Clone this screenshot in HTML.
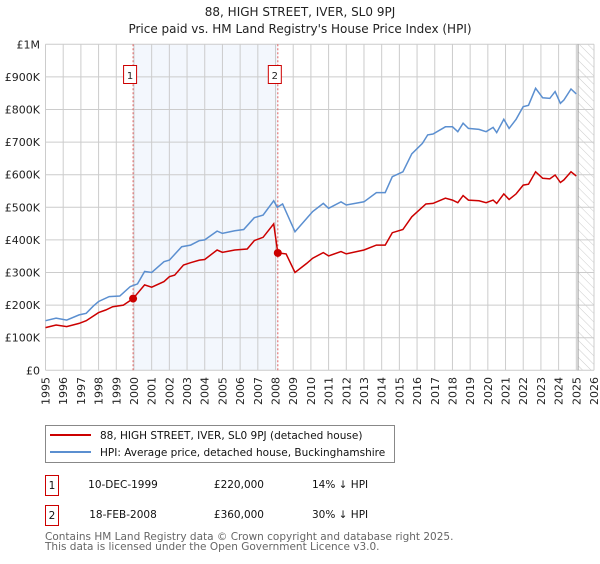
<!DOCTYPE html>
<html><head><meta charset="utf-8"><style>
body{margin:0;background:#fff;width:600px;height:560px;overflow:hidden;font-family:"DejaVu Sans","Liberation Sans",sans-serif}
</style></head><body>
<svg id="chart" width="600" height="560" xmlns="http://www.w3.org/2000/svg" font-family="DejaVu Sans, Liberation Sans, sans-serif">
<defs>
<pattern id="hatch" width="6" height="6" patternUnits="userSpaceOnUse" patternTransform="rotate(-45)">
<line x1="0" y1="0" x2="0" y2="6" stroke="#ccc" stroke-width="1"/>
</pattern>
</defs>
<text x="300" y="16" text-anchor="middle" font-size="12" fill="#222">88, HIGH STREET, IVER, SL0 9PJ</text>
<text x="300" y="33" text-anchor="middle" font-size="12" fill="#222">Price paid vs. HM Land Registry's House Price Index (HPI)</text>
<g id="plot"></g>
<g>
<rect x="45.5" y="425.5" width="349" height="37" fill="#fff" stroke="#888"/>
<line x1="50" y1="435" x2="91" y2="435" stroke="#cc0000" stroke-width="2"/>
<text x="100" y="439" font-size="10.5" fill="#111">88, HIGH STREET, IVER, SL0 9PJ (detached house)</text>
<line x1="50" y1="452" x2="91" y2="452" stroke="#5b8fd0" stroke-width="2"/>
<text x="100" y="456" font-size="10.5" fill="#111">HPI: Average price, detached house, Buckinghamshire</text>
</g>
<g font-size="10.5" fill="#111">
<rect x="45.5" y="475.5" width="13" height="20" fill="#fff" stroke="#cc0000"/>
<text x="52" y="489" text-anchor="middle">1</text>
<text x="123" y="488" text-anchor="middle">10-DEC-1999</text>
<text x="264" y="488" text-anchor="end">£220,000</text>
<text x="312" y="488">14% ↓ HPI</text>
<rect x="45.5" y="505.5" width="13" height="20" fill="#fff" stroke="#cc0000"/>
<text x="52" y="519" text-anchor="middle">2</text>
<text x="123" y="518" text-anchor="middle">18-FEB-2008</text>
<text x="264" y="518" text-anchor="end">£360,000</text>
<text x="312" y="518">30% ↓ HPI</text>
</g>
<g font-size="10.5" fill="#666">
<text x="45" y="540">Contains HM Land Registry data © Crown copyright and database right 2025.</text>
<text x="45" y="550">This data is licensed under the Open Government Licence v3.0.</text>
</g>
</svg>
<script>
const yTicks=[0,100,200,300,400,500,600,700,800,900,1000];
const yTickLabels=["£0","£100K","£200K","£300K","£400K","£500K","£600K","£700K","£800K","£900K","£1M"];
const xTicks=[1995,1996,1997,1998,1999,2000,2001,2002,2003,2004,2005,2006,2007,2008,2009,2010,2011,2012,2013,2014,2015,2016,2017,2018,2019,2020,2021,2022,2023,2024,2025,2026];
const hpiYears=[1995.0,1995.6,1996.2,1996.9,1997.3,1997.7,1998.0,1998.6,1999.2,1999.8,2000.2,2000.6,2001.0,2001.7,2002.0,2002.7,2003.2,2003.7,2004.0,2004.7,2005.0,2005.7,2006.2,2006.8,2007.3,2007.9,2008.1,2008.4,2009.1,2009.76,2010.1,2010.7,2011.0,2011.7,2012.0,2013.0,2013.7,2014.2,2014.6,2015.2,2015.7,2016.3,2016.6,2016.9,2017.6,2018.0,2018.3,2018.6,2018.9,2019.5,2019.9,2020.3,2020.5,2020.9,2021.2,2021.6,2022.0,2022.3,2022.7,2023.1,2023.5,2023.8,2024.1,2024.3,2024.7,2025.0];
const hpiValues=[152,160,154,170,175,197,211,226,228,257,265,303,300,333,338,379,384,398,400,427,420,428,432,468,476,520,500,510,425,466,487,512,497,517,507,517,545,545,594,609,664,696,722,725,747,747,732,758,742,739,732,745,729,770,742,770,809,813,865,836,834,855,819,829,863,848];
const priceYears=[1995.0,1995.6,1996.2,1996.9,1997.3,1998.0,1998.4,1998.8,1999.4,1999.95,2000.6,2001.0,2001.7,2002.0,2002.3,2002.8,2003.2,2003.7,2004.0,2004.7,2005.0,2005.7,2006.4,2006.8,2007.3,2007.9,2008.13,2008.6,2009.1,2009.76,2010.1,2010.7,2011.0,2011.7,2012.0,2013.0,2013.7,2014.2,2014.6,2015.2,2015.7,2016.5,2016.9,2017.6,2018.0,2018.3,2018.6,2018.9,2019.5,2019.9,2020.3,2020.5,2020.9,2021.2,2021.6,2022.0,2022.3,2022.7,2023.1,2023.5,2023.8,2024.1,2024.3,2024.7,2025.0];
const priceValues=[131,139,134,144,152,177,185,195,200,220,262,255,272,287,292,323,330,338,340,369,362,369,372,398,408,449,360,357,300,328,344,361,351,364,357,369,384,384,422,432,471,510,512,528,522,514,536,522,520,514,522,512,541,524,541,568,571,609,589,587,599,576,584,609,596];
const saleYears=[1999.95,2008.13];
const saleValues=[220,360];
const saleLabels=["1","2"];

const X0=45.5,X1=594,Y0=370.3,Y1=44.3;
const xs=y=>X0+(y-1995)/(2026-1995)*(X1-X0);
const ys=v=>Y0-v/1000*(Y0-Y1);
const NS="http://www.w3.org/2000/svg";
const g=document.getElementById('plot');
function mk(t,a){const e=document.createElementNS(NS,t);for(const k in a)e.setAttribute(k,a[k]);g.appendChild(e);return e;}
let r=mk('rect',{x:xs(saleYears[0]),y:Y1,width:xs(saleYears[1])-xs(saleYears[0]),height:Y0-Y1,fill:'#eef3fc',opacity:0.7});


r=mk('rect',{x:xs(2025.1),y:Y1,width:X1-xs(2025.1),height:Y0-Y1,fill:'url(#hatch)'});


xTicks.forEach(t=>{const l=mk('line',{x1:xs(t),x2:xs(t),y1:Y1,y2:Y0,stroke:'#ccc','stroke-width':1});


const px=xs(t)+4, py=377;
const tx=mk('text',{x:px,y:py,'text-anchor':'end','font-size':11,fill:'#222',transform:`rotate(-90 ${px} ${py})`});tx.textContent=t;

});
yTicks.forEach((t,i)=>{const l=mk('line',{x1:X0,x2:X1,y1:ys(t),y2:ys(t),stroke:'#ccc','stroke-width':1});


const tx=mk('text',{x:40,y:ys(t)+4,'text-anchor':'end','font-size':11,fill:'#222'});tx.textContent=yTickLabels[i];

});
let vl=mk('line',{x1:xs(2025.1),x2:xs(2025.1),y1:Y1,y2:Y0,stroke:'#999','stroke-width':1});


saleYears.forEach((s,i)=>{const l=mk('line',{x1:xs(s),x2:xs(s),y1:Y1,y2:Y0,stroke:'#e06060','stroke-width':1,'stroke-dasharray':'2,2'});


const b=mk('rect',{x:xs(s)-9.5,y:65.5,width:13,height:18,fill:'#fff',stroke:'#cc0000'});


const t=mk('text',{x:xs(s)-3,y:79,'text-anchor':'middle','font-size':10,fill:'#222'});t.textContent=saleLabels[i];

});
const path=(xa,va)=>xa.map((y,i)=>(i?'L':'M')+xs(y).toFixed(1)+','+ys(va[i]).toFixed(1)).join('');
let p=mk('path',{d:path(hpiYears,hpiValues),fill:'none',stroke:'#5b8fd0','stroke-width':1.5});


p=mk('path',{d:path(priceYears,priceValues),fill:'none',stroke:'#cc0000','stroke-width':1.5});


saleYears.forEach((s,i)=>{const c=mk('circle',{cx:xs(s),cy:ys(saleValues[i]),r:4,fill:'#cc0000'});

});
</script>
</body></html>
